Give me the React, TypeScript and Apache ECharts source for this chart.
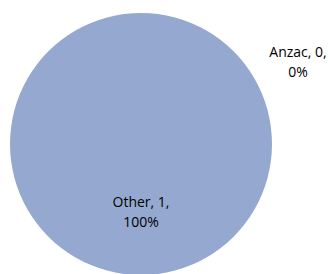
import React, { useEffect, useRef } from "react";
import * as echarts from "echarts";

const categories = ["Anzac", "Other"];
const values = [0, 1];

export default function App() {
  const ref = useRef<HTMLDivElement>(null);
  useEffect(() => {
    document.body.style.margin = "0";
    const chart = echarts.init(ref.current!, null, { renderer: "svg" });
    chart.setOption({
      animation: false,
      backgroundColor: "#ffffff",
      series: [
        {
          type: "pie",
          center: [141, 144],
          radius: [0, 131],
          startAngle: 90,
          clockwise: true,
          avoidLabelOverlap: false,
          itemStyle: { color: "#95a9d0", borderWidth: 0 },
          label: {
            show: true,
            position: "inside",
            formatter: "{b}, {c},\n{d}%",
            color: "#000000",
            fontFamily: "Open Sans",
            fontSize: 14,
            lineHeight: 20,
            align: "center",
          },
          labelLine: { show: false },
          labelLayout: (params: any) => {
            if (params.dataIndex === 0) {
              return { x: 298, y: 61, align: "center", verticalAlign: "middle" };
            }
            return { x: 141, y: 211, align: "center", verticalAlign: "middle" };
          },
          data: categories.map((name, i) => ({ name, value: values[i] })),
        },
      ],
    });
    return () => chart.dispose();
  }, []);
  return <div ref={ref} style={{ width: 328, height: 274 }} />;
}
